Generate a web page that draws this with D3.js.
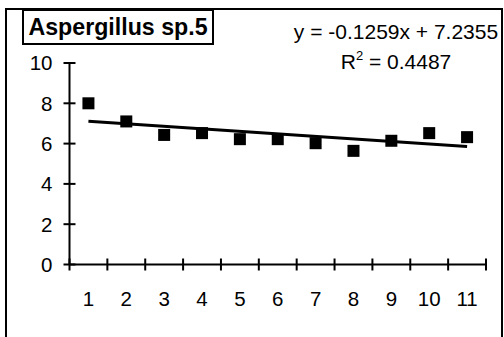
<!DOCTYPE html>
<html><head><meta charset="utf-8">
<script src="https://cdn.jsdelivr.net/npm/d3@7"></script>
<style>html,body{margin:0;padding:0;background:#fff;}svg{display:block;}</style>
</head><body>
<script>
const categories = ["1","2","3","4","5","6","7","8","9","10","11"];
const values = [8.0, 7.1, 6.43, 6.52, 6.22, 6.22, 6.02, 5.64, 6.14, 6.52, 6.32];
const yTicks = [0, 2, 4, 6, 8, 10];
const trendSlope = -0.1259;
const trendIntercept = 7.2355;
const title = "Aspergillus sp.5";
const eqText = "y = -0.1259x + 7.2355";
const r2Value = "0.4487";

const W = 504, H = 337;
const svg = d3.select("body").append("svg").attr("width", W).attr("height", H);
const font = "'Liberation Sans', Arial, sans-serif";

// outer chart border
svg.append("rect").attr("x", 6).attr("y", 9).attr("width", 496).attr("height", 340)
  .attr("fill", "#fff").attr("stroke", "#000").attr("stroke-width", 2);

const x = d3.scaleBand().domain(categories).range([69.5, 486]).padding(0);
const y = d3.scaleLinear().domain([0, 10]).range([264.5, 63]);

// y axis
const yAxis = svg.append("g").attr("transform", "translate(69.5,0)");
yAxis.append("line").attr("y1", y(0)).attr("y2", y(10)).attr("stroke", "#000").attr("stroke-width", 2);
yAxis.selectAll("line.t").data(yTicks).join("line").attr("class", "t")
  .attr("x1", -6).attr("x2", 6).attr("y1", d => y(d)).attr("y2", d => y(d))
  .attr("stroke", "#000").attr("stroke-width", 2);
yAxis.selectAll("text").data(yTicks).join("text")
  .attr("x", -17).attr("y", d => y(d)).attr("dy", "0.36em")
  .attr("text-anchor", "end").attr("font-family", font).attr("font-size", 20.5).text(d => d);

// x axis
const xAxis = svg.append("g").attr("transform", `translate(0,${y(0)})`);
xAxis.append("line").attr("x1", 69.5).attr("x2", 486).attr("stroke", "#000").attr("stroke-width", 2);
const bounds = categories.map(c => x(c)).concat([x(categories[categories.length-1]) + x.bandwidth()]);
xAxis.selectAll("line.t").data(bounds).join("line").attr("class", "t")
  .attr("x1", d => d).attr("x2", d => d).attr("y1", -6).attr("y2", 6)
  .attr("stroke", "#000").attr("stroke-width", 2);
xAxis.selectAll("text").data(categories).join("text")
  .attr("x", d => x(d) + x.bandwidth() / 2).attr("y", 41)
  .attr("text-anchor", "middle").attr("font-family", font).attr("font-size", 20.5).text(d => d);

// markers
const cx = (c) => x(c) + x.bandwidth() / 2;
svg.selectAll("rect.m").data(values).join("rect").attr("class", "m")
  .attr("x", (d, i) => cx(categories[i]) - 6).attr("y", d => y(d) - 6)
  .attr("width", 12).attr("height", 12).attr("fill", "#000");

// trendline
const first = 1, last = categories.length;
svg.append("line")
  .attr("x1", cx(categories[0])).attr("y1", y(trendSlope * first + trendIntercept))
  .attr("x2", cx(categories[last - 1])).attr("y2", y(trendSlope * last + trendIntercept))
  .attr("stroke", "#000").attr("stroke-width", 3);

// title box
svg.append("rect").attr("x", 23).attr("y", 10).attr("width", 190).attr("height", 34)
  .attr("fill", "#fff").attr("stroke", "#000").attr("stroke-width", 2);
svg.append("text").attr("x", 118).attr("y", 35).attr("text-anchor", "middle")
  .attr("font-family", font).attr("font-weight", "bold").attr("font-size", 23.2).text(title);

// equation
svg.append("text").attr("x", 396).attr("y", 39).attr("text-anchor", "middle")
  .attr("font-family", font).attr("font-size", 21).text(eqText);
const r2 = svg.append("text").attr("x", 396).attr("y", 69).attr("text-anchor", "middle")
  .attr("font-family", font).attr("font-size", 21);
r2.append("tspan").text("R");
r2.append("tspan").attr("font-size", 13).attr("dy", -9).text("2");
r2.append("tspan").attr("dy", 9).text(" = " + r2Value);
</script>
</body></html>
